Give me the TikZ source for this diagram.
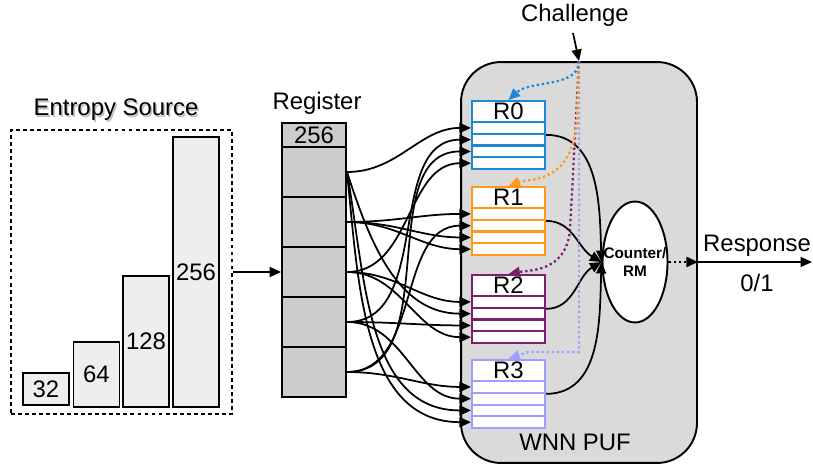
\documentclass[tikz,border=0pt]{standalone}
\usepackage{fontspec}
\setmainfont{Liberation Sans}
\usetikzlibrary{positioning,shapes.geometric,arrows.meta}

\begin{document}
\begin{tikzpicture}[x=0.02cm,y=-0.02cm,
	every node/.style={font=\fontsize{13.6}{15}\selectfont},
	bar/.style={draw, fill=barfill, line width=1.1pt, minimum width=0.92cm, inner sep=0pt, anchor=south},
	regcell/.style={draw, fill=regfill, line width=1.1pt, minimum width=1.28cm, minimum height=1cm, inner sep=0pt},
	rhead/.style={fill=white, line width=1.2pt, minimum width=1.46cm, minimum height=0.42cm, inner sep=0pt},
	rrow/.style={fill=white, line width=1.2pt, minimum width=1.46cm, minimum height=0.235cm, inner sep=0pt},
	wire/.style={line width=1pt, -{Triangle[length=2.3mm,width=2mm]}},
	chal/.style={line width=1.3pt, dash pattern=on 1.3pt off 1.6pt, -{Triangle[length=2.3mm,width=2mm]}}]
		% Define colors
		\definecolor{barfill}{RGB}{238, 238, 238}
		\definecolor{regfill}{RGB}{204, 204, 204}
		\definecolor{puffill}{RGB}{218, 218, 218}
		\definecolor{rblue}{RGB}{28, 136, 214}
		\definecolor{rorange}{RGB}{255, 153, 26}
		\definecolor{rpurple}{RGB}{122, 31, 110}
		\definecolor{rlav}{RGB}{158, 158, 255}
		\useasboundingbox (0,0) rectangle (813,465);
		
		% ENTROPY SOURCE
		\node[text=black!25] (srcshadow) at (117.5,111.5) {Entropy Source};
		\node (srclabel) at (116,110) {Entropy Source};
		\node[draw, line width=1.1pt, dash pattern=on 2.2pt off 1.8pt, minimum width=4.42cm, minimum height=5.68cm, inner sep=0pt] (src) at (121.5,272) {};
		\node[bar, minimum height=0.64cm] (bar32) at (46,406) {32};
		\node[bar, minimum height=1.3cm] (bar64) at (96.5,408) {64};
		\node[bar, minimum height=2.62cm] (bar128) at (146,408) {128};
		\node[bar, minimum height=5.4cm] (bar256) at (196,408) {256};
		
		% REGISTER
		\node (reglabel) at (317,103) {Register};
		\node[regcell, minimum height=0.5cm] (reg0) at (314,135.5) {256};
		\foreach \i in {1,...,5}
			\node[regcell] (reg\i) at (314,{122+50*\i}) {};
		\draw[wire] (src.east) -- (reg3.west);
		
		% WNN PUF
		\node[draw, fill=puffill, line width=1.1pt, rounded corners=0.8cm, minimum width=4.72cm, minimum height=8.02cm, inner sep=0pt] (puf) at (579,262.5) {};
		\node (puflabel) at (575,442) {WNN PUF};
		\foreach \i/\col/\ytop in {0/rblue/100, 1/rorange/186, 2/rpurple/274, 3/rlav/359} {
			\node[rhead, draw=\col, anchor=north] (R\i) at (508.5,\ytop) {R\i};
			\foreach \j in {1,...,4}
				\node[rrow, draw=\col, anchor=north] (R\i-\j) at (508.5,{\ytop+21+(\j-1)*11.75}) {};
		}
		\node[draw, fill=white, ellipse, line width=1.1pt, minimum width=1.3cm, minimum height=2.42cm, inner sep=0pt] (cnt) at (635,262) {};
		\node[align=center, inner sep=0pt, font=\fontsize{8.7}{10}\selectfont\bfseries] (cntlabel) at (cnt.center) {Counter/\\RM};
		
		% register to R0..R3
		\foreach \c/\r/\o in {1/R0-1/0, 1/R2-2/-72, 1/R3-3/-80, 1/R3-4/-84,
			2/R1-1/0, 2/R1-3/0, 2/R1-4/0,
			3/R0-4/0, 3/R2-1/0, 3/R2-4/0,
			4/R0-2/0, 4/R2-3/0, 4/R3-2/0,
			5/R0-3/0, 5/R1-2/0, 5/R3-1/0}
			\draw[wire] (reg\c.east) to[out=\o,in=180] (\r.west);
		
		% R0..R3 to counter
		\draw[wire] (R0-1.south east) to[out=0,in=92] (cnt.west);
		\draw[wire] (R1-1.south east) to[out=0,in=150] (cnt.west);
		\draw[wire] (R2-1.south east) to[out=0,in=210] (cnt.west);
		\draw[wire] (R3-1.south east) to[out=0,in=-92] (cnt.west);
		
		% CHALLENGE
		\node (challabel) at (575,15) {Challenge};
		\draw[wire] (573,33) -- (puf.north);
		\draw[chal, rlav] (puf.north) -- (579,352) -- (528,352) -- (R3.north);
		\draw[chal, rpurple] (puf.north) -- (570,230) .. controls (566,272) and (530,270) .. (R2.north);
		\draw[chal, rorange] (puf.north) -- (577,120) .. controls (572,185) and (530,178) .. (R1.north);
		\draw[chal, rblue] (puf.north) .. controls (579,88) and (530,80) .. (R0.north);
		
		% RESPONSE
		\coordinate (pufout) at (puf.east |- cnt);
		\coordinate (resp) at (812,262);
		\draw[chal, black] (cnt.east) -- (pufout);
		\draw[wire] (pufout) -- (resp);
		\node (resplabel) at (757,246) {Response};
		\node (bit) at (757,283) {0/1};
		
	\end{tikzpicture}
\end{document}
